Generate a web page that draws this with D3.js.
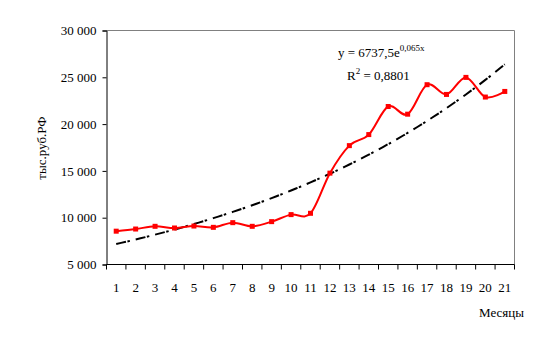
<!DOCTYPE html>
<html><head><meta charset="utf-8">
<script src="https://cdn.jsdelivr.net/npm/d3@7"></script>
<style>body{margin:0;background:#fff}svg text{font-family:"Liberation Serif","Times New Roman","DejaVu Serif",serif !important}</style>
</head><body><svg id="c" width="560" height="356"></svg>
<script>
const months = [1,2,3,4,5,6,7,8,9,10,11,12,13,14,15,16,17,18,19,20,21];
const values = [8560,8790,9080,8900,9110,8970,9470,9080,9580,10330,10470,14760,17700,18880,21880,21060,24210,23170,24990,22890,23490];
const yTicks = [5000,10000,15000,20000,25000,30000];
const trendA = 6737.5, trendB = 0.065;
const eqText = "y = 6737,5e", eqExp = "0,065x", r2Text = "R", r2Val = " = 0,8801";
const yTitle = "тыс.руб.РФ", xTitle = "Месяцы";

const svg = d3.select("#c");
const L = 106.5, R = 514.5, T = 30.5, B = 264.5;
const x = d3.scaleBand().domain(months).range([L, R]).padding(0);
const bw = x.bandwidth();
const cx = d => x(d) + bw/2;
const xl = d3.scaleLinear().domain([1,21]).range([cx(1), cx(21)]);
const y = d3.scaleLinear().domain([5000,30000]).range([B, T]);
const fmt = d3.formatLocale({decimal:",", thousands:"\u00a0", grouping:[3], currency:["",""]}).format(",");

svg.append("path").attr("d",`M${L},${T}H${R}V${B}`).attr("fill","none").attr("stroke","#808080").attr("stroke-width",1);

const ya = svg.append("g").attr("transform",`translate(${L},0)`)
  .call(d3.axisLeft(y).tickValues(yTicks).tickFormat(fmt).tickSizeOuter(0).tickSize(4).tickPadding(6));
ya.attr("font-family",null);
ya.select(".domain").attr("stroke","#000");
ya.selectAll("line").attr("stroke","#000");
ya.selectAll("text").attr("font-size",13).attr("fill","#000");

const xg = svg.append("g");
xg.append("line").attr("x1",L).attr("x2",R).attr("y1",B).attr("y2",B).attr("stroke","#000");
const bounds = months.map(d=>x(d)).concat([R]);
xg.selectAll("line.t").data(bounds).join("line").attr("class","t")
  .attr("x1",d=>d).attr("x2",d=>d).attr("y1",B).attr("y2",B+5).attr("stroke","#000");
xg.selectAll("text").data(months).join("text")
  .attr("x",d=>cx(d)).attr("y",B+27).attr("text-anchor","middle")
  .attr("font-size",13).text(d=>d);

const tpts = d3.range(1, 21.001, 0.25).map(m=>[xl(m), y(trendA*Math.exp(trendB*m))]);
svg.append("path").attr("d", d3.line()(tpts)).attr("fill","none")
  .attr("stroke","#000").attr("stroke-width",2).attr("stroke-dasharray","10,1.5,2.5,6");

const line = d3.line().x((d,i)=>cx(months[i])).y(d=>y(d)).curve(d3.curveCardinal.tension(0));
svg.append("path").attr("d", line(values)).attr("fill","none").attr("stroke","#ff0000").attr("stroke-width",2);
svg.selectAll("rect.m").data(values).join("rect").attr("class","m")
  .attr("x",(d,i)=>cx(months[i])-2.5).attr("y",d=>y(d)-2.5).attr("width",5).attr("height",5).attr("fill","#ff0000");

const eq = svg.append("text").attr("x",338).attr("y",57).attr("font-size",13);
eq.append("tspan").text(eqText);
eq.append("tspan").attr("dy",-6).attr("font-size",9).text(eqExp);
const r2 = svg.append("text").attr("x",347).attr("y",80).attr("font-size",13);
r2.append("tspan").text(r2Text);
r2.append("tspan").attr("dy",-6).attr("font-size",9).text("2");
r2.append("tspan").attr("dy",6).text(r2Val);

svg.append("text").attr("transform","translate(46,148) rotate(-90)").attr("text-anchor","middle")
  .attr("font-size",13).text(yTitle);
svg.append("text").attr("x",524).attr("y",317).attr("text-anchor","end").attr("font-size",13).text(xTitle);
</script></body></html>
